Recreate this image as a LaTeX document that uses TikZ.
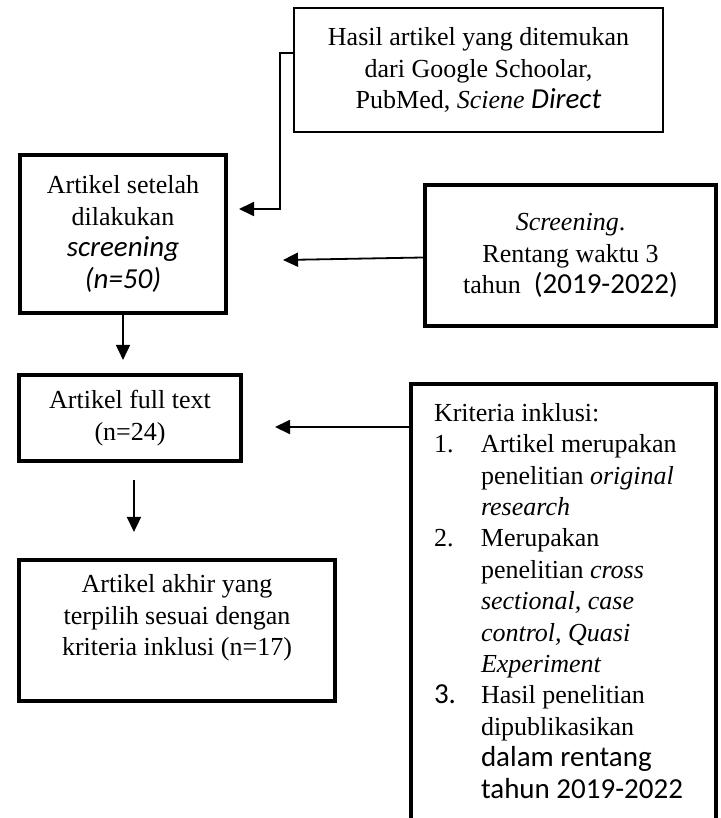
\documentclass[tikz,border=0pt]{standalone}
\usepackage{fontspec}
\setmainfont{Liberation Serif}
\newfontfamily\calibrifont{Carlito}
\newcommand{\cbr}[1]{{\calibrifont\fontsize{14.5}{15.7}\selectfont #1}}
\usetikzlibrary{arrows.meta}
\tikzset{
  thinbox/.style={draw, line width=0.75pt, align=center, inner sep=0pt},
  thickbox/.style={draw, line width=2.25pt, align=center, inner sep=0pt},
  arr/.style={-{Triangle[length=7.5pt,width=7pt]}, line width=0.9pt}
}
\begin{document}
\begin{tikzpicture}
  [x=0.5pt, y=-0.5pt, every node/.style={font=\fontsize{13}{15.7}\selectfont}]
  \useasboundingbox (0,0) rectangle (720,818);
  % Boxes of the flow
  \node (src) at (478.5,70) [thinbox, minimum width=184.5pt, minimum height=62pt]
    {Hasil artikel yang ditemukan\\dari Google Schoolar,\\PubMed, \textit{Sciene} \cbr{\itshape Direct}};
  \node (screen) at (123,234) [thickbox, minimum width=103pt, minimum height=79pt]
    {Artikel setelah\\dilakukan\\\cbr{\itshape screening}\\\cbr{\itshape (n=50)}};
  \node (range) at (570.5,255.5) [thickbox, minimum width=145.5pt, minimum height=70.5pt]
    {\textit{Screening}.\\Rentang waktu 3\\tahun\ \ \cbr{(2019-2022)}};
  \node (full) at (130,418) [thickbox, minimum width=111pt, minimum height=43pt]
    {Artikel full text\\(n=24)};
  \node (final) at (177,630.5) [thickbox, minimum width=158pt, minimum height=70.5pt]
    {Artikel akhir yang\\terpilih sesuai dengan\\kriteria inklusi (n=17)\\[-0.5pt]\mbox{}};
  \node (crit) at (563.5,603.5) [thickbox, minimum width=152.5pt, minimum height=219.5pt]
    {\makebox[129.5pt][l]{\begin{tabular}{@{}p{23.5pt}@{}l@{}}
     \multicolumn{2}{@{}l@{}}{Kriteria inklusi:}\\
     1. & Artikel merupakan\\
        & penelitian \textit{original}\\
        & \textit{research}\\
     2. & Merupakan\\
        & penelitian \textit{cross}\\
        & \textit{sectional, case}\\
        & \textit{control, Quasi}\\
        & \textit{Experiment}\\
     \cbr{3.} & Hasil penelitian\\
        & dipublikasikan\\
        & \cbr{dalam rentang}\\
        & \cbr{tahun 2019-2022}
     \end{tabular}}};
  % Free arrow ends
  \coordinate (t0) at (239,209);
  \coordinate (t1) at (283,260);
  \coordinate (t2) at (275,427);
  % Connectors
  \draw [arr] ([yshift=8.5pt]src.west) -- ++(-13,0) |- (t0);
  \draw [arr] ([yshift=-1pt]range.west) -- (t1);
  \draw [arr] (crit.west |- t2) -- (t2);
  \draw [arr, shorten >=6.4pt] (screen.south) -- (screen.south |- full.north);
  \draw [arr, shorten <=8.4pt, shorten >=12.9pt] (full.-85) -- (full.-85 |- final.north);
\end{tikzpicture}
\end{document}
